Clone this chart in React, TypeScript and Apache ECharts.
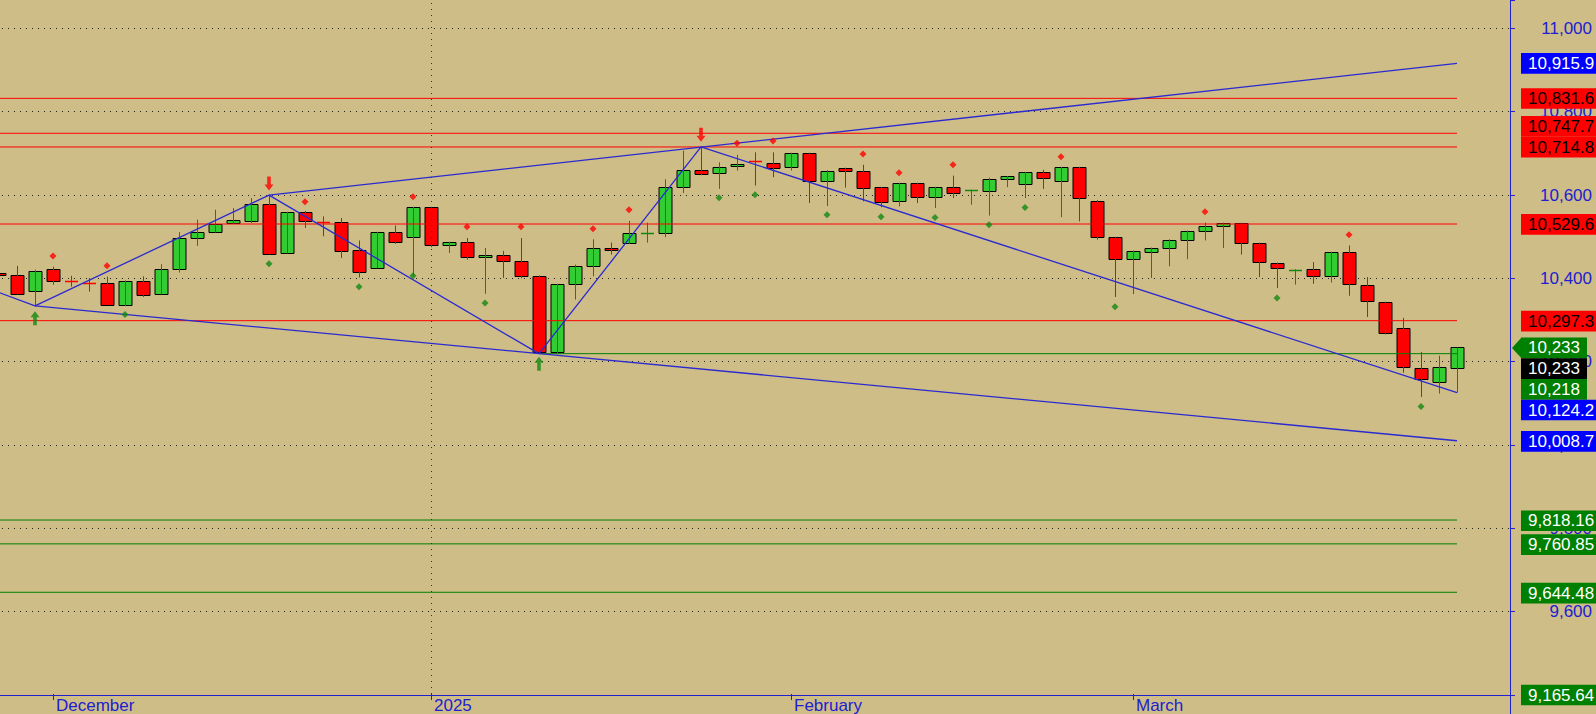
import React, { useEffect, useRef } from 'react';
import * as echarts from 'echarts';

// trading days shown on the chart
const dates = [
  '2024-11-26', '2024-11-27', '2024-11-29',
  '2024-12-02', '2024-12-03', '2024-12-04', '2024-12-05', '2024-12-06',
  '2024-12-09', '2024-12-10', '2024-12-11', '2024-12-12', '2024-12-13',
  '2024-12-16', '2024-12-17', '2024-12-18', '2024-12-19', '2024-12-20',
  '2024-12-23', '2024-12-24', '2024-12-26', '2024-12-27',
  '2024-12-30', '2024-12-31',
  '2025-01-02', '2025-01-03',
  '2025-01-06', '2025-01-07', '2025-01-08', '2025-01-10',
  '2025-01-13', '2025-01-14', '2025-01-15', '2025-01-16', '2025-01-17',
  '2025-01-21', '2025-01-22', '2025-01-23', '2025-01-24',
  '2025-01-27', '2025-01-28', '2025-01-29', '2025-01-30', '2025-01-31',
  '2025-02-03', '2025-02-04', '2025-02-05', '2025-02-06', '2025-02-07',
  '2025-02-10', '2025-02-11', '2025-02-12', '2025-02-13', '2025-02-14',
  '2025-02-18', '2025-02-19', '2025-02-20', '2025-02-21',
  '2025-02-24', '2025-02-25', '2025-02-26', '2025-02-27', '2025-02-28',
  '2025-03-03', '2025-03-04', '2025-03-05', '2025-03-06', '2025-03-07',
  '2025-03-10', '2025-03-11', '2025-03-12', '2025-03-13', '2025-03-14',
  '2025-03-17', '2025-03-18', '2025-03-19', '2025-03-20', '2025-03-21',
  '2025-03-24', '2025-03-25', '2025-03-26', '2025-03-27',
];

// [open, close, low, high]
const ohlc: number[][] = [
  [10413, 10407, 10403, 10417], [10407, 10361, 10360, 10429], [10368, 10417, 10333, 10420],
  [10422, 10392, 10384, 10427], [10393, 10391, 10379, 10405], [10388, 10387, 10367, 10400],
  [10388, 10336, 10335, 10403], [10336, 10393, 10332, 10394], [10393, 10360, 10354, 10404],
  [10361, 10421, 10360, 10433], [10421, 10496, 10413, 10510], [10495, 10510, 10477, 10540],
  [10510, 10530, 10509, 10564], [10532, 10540, 10530, 10568], [10538, 10578, 10532, 10592],
  [10578, 10457, 10456, 10599], [10460, 10558, 10459, 10559], [10558, 10536, 10520, 10561],
  [10535, 10533, 10500, 10548], [10534, 10465, 10448, 10544], [10468, 10414, 10401, 10490],
  [10424, 10510, 10423, 10511], [10510, 10486, 10482, 10526], [10498, 10570, 10405, 10571],
  [10570, 10478, 10474, 10571], [10480, 10486, 10460, 10487], [10486, 10450, 10444, 10496],
  [10450, 10454, 10362, 10472], [10455, 10440, 10400, 10465], [10441, 10404, 10399, 10496],
  [10405, 10221, 10218, 10406], [10222, 10385, 10219, 10386], [10385, 10429, 10348, 10432],
  [10428, 10472, 10404, 10493], [10473, 10467, 10456, 10485], [10484, 10508, 10482, 10537],
  [10507, 10509, 10485, 10533], [10508, 10618, 10498, 10637], [10618, 10660, 10604, 10706],
  [10659, 10649, 10647, 10714.8], [10652, 10666, 10614, 10678], [10669, 10674, 10658, 10696],
  [10681, 10680, 10622, 10702], [10676, 10665, 10642, 10702], [10666, 10700, 10658, 10701],
  [10700, 10632, 10580, 10701], [10632, 10658, 10573, 10659], [10664, 10657, 10617, 10665],
  [10657, 10616, 10584, 10672], [10618, 10582, 10570, 10619], [10585, 10628, 10572, 10629],
  [10628, 10594, 10580, 10629], [10594, 10618, 10568, 10619], [10618, 10604, 10592, 10646],
  [10609, 10611, 10576, 10612], [10608, 10637, 10550, 10641], [10637, 10644, 10618, 10645],
  [10625, 10654, 10592, 10655], [10654, 10639, 10614, 10660], [10634, 10666, 10546, 10667],
  [10666, 10592, 10536, 10667], [10586, 10498, 10492, 10587], [10498, 10445, 10354, 10499],
  [10445, 10465, 10361, 10466], [10463, 10472, 10400, 10473], [10472, 10492, 10428, 10493],
  [10491, 10513, 10445, 10514], [10512, 10525, 10490, 10533], [10525, 10532, 10472, 10533],
  [10532, 10484, 10456, 10533], [10484, 10438, 10402, 10485], [10436, 10423, 10376, 10437],
  [10418, 10420, 10384, 10421], [10421, 10404, 10386, 10438], [10404, 10462, 10389, 10463],
  [10462, 10385, 10357, 10478], [10383, 10344, 10306, 10402], [10342, 10268, 10264, 10343],
  [10280, 10185, 10172, 10304], [10184, 10156, 10114, 10222], [10150, 10186, 10122, 10213],
  [10184, 10233, 10124.2, 10233],
];

// horizontal levels
const resistanceLevels = [10831.6, 10747.7, 10714.8, 10529.6, 10297.3];
const supportLevels = [9818.16, 9760.85, 9644.48];
const swingLowLevel = [30, 10218]; // [start index, value]

// trend lines: [index, value] pairs
const upperTrend = [[15, 10599], [81, 10915.9]];
const lowerTrend = [[2, 10333], [81, 10008.7]];
const zigzag = [[0, 10365], [2, 10333], [15, 10599], [30, 10218], [39, 10714.8], [81, 10124.2]];

// markers: [index, value]
const redDots = [
  [3, 10453], [6, 10429], [17, 10583], [23, 10595], [26, 10523], [29, 10523], [33, 10518],
  [35, 10564], [41, 10724], [43, 10729], [48, 10698], [50, 10653], [53, 10672], [59, 10691],
  [67, 10559], [75, 10504],
];
const greenDots = [
  [7, 10312], [15, 10434], [20, 10379], [23, 10405], [27, 10340], [40, 10593], [42, 10600],
  [46, 10552], [49, 10547], [52, 10545], [55, 10528], [57, 10569], [62, 10331], [71, 10352],
  [79, 10091],
];
const buyArrows = [[2, 10303], [30, 10194]];
const sellArrows = [[15, 10627], [39, 10744]];

// price tags on the right axis, in placement priority order
const priceTags = [
  { value: 10233, text: '10,233', kind: 'last' },
  { value: 10233, text: '10,233', kind: 'black' },
  { value: 10218, text: '10,218', kind: 'green' },
  { value: 10124.2, text: '10,124.2', kind: 'blue' },
  { value: 10008.7, text: '10,008.7', kind: 'blue' },
  { value: 10714.8, text: '10,714.8', kind: 'red' },
  { value: 10747.7, text: '10,747.7', kind: 'red' },
  { value: 10915.9, text: '10,915.9', kind: 'blue' },
  { value: 10831.6, text: '10,831.6', kind: 'red' },
  { value: 10529.6, text: '10,529.6', kind: 'red' },
  { value: 10297.3, text: '10,297.3', kind: 'red' },
  { value: 9818.16, text: '9,818.16', kind: 'green' },
  { value: 9760.85, text: '9,760.85', kind: 'green' },
  { value: 9644.48, text: '9,644.48', kind: 'green' },
  { value: 9165.64, text: '9,165.64', kind: 'green' },
];

const monthNames = ['January', 'February', 'March', 'April', 'May', 'June', 'July',
  'August', 'September', 'October', 'November', 'December'];

const BG = '#CFBD88';
const AXIS_BLUE = '#2020D0';
const GREEN_BODY = '#33CC33';
const GREEN_WICK = '#118811';
const RED_BODY = '#FF0000';
const RED_WICK = '#FF0000';
const LINE_RED = '#FF0000';
const LINE_GREEN = '#008000';
const TREND_BLUE = '#2A2AD0';
const FONT = 'Arial, "Liberation Sans", sans-serif';

const Y_MIN = 9400;
const Y_MAX = 11068;

const isMonthStart = (idx: number) =>
  idx > 0 && dates[idx].slice(0, 7) !== dates[idx - 1].slice(0, 7);

const tagColors: Record<string, [string, string]> = {
  last: ['#008000', '#FFFFFF'],
  black: ['#000000', '#FFFFFF'],
  green: ['#008000', '#FFFFFF'],
  blue: ['#0000FF', '#FFFFFF'],
  red: ['#FF0000', '#000000'],
};

export default function App() {
  const ref = useRef<HTMLDivElement>(null);

  useEffect(() => {
    document.body.style.margin = '0';
    document.body.style.background = BG;
    document.body.style.overflow = 'hidden';
    if (!ref.current) return;
    const chart = echarts.init(ref.current, undefined, { renderer: 'svg' });

    const renderCandle = (params: any, api: any) => {
      const i = api.value(0);
      const o = api.value(1);
      const c = api.value(2);
      const l = api.value(3);
      const h = api.value(4);
      const pO = api.coord([i, o]);
      const pC = api.coord([i, c]);
      const pL = api.coord([i, l]);
      const pH = api.coord([i, h]);
      const x = Math.round(pO[0]) + 0.5;
      const up = c >= o;
      const bw = 13;
      const top = Math.min(pO[1], pC[1]);
      const bot = Math.max(pO[1], pC[1]);
      const children: any[] = [];
      if (bot - top >= 1.2) {
        const ty = Math.round(top) + 0.5;
        children.push({
          type: 'rect',
          shape: { x: x - bw / 2, y: ty, width: bw, height: Math.max(1, Math.round(bot) - Math.round(top)) },
          style: { fill: up ? GREEN_BODY : RED_BODY, stroke: '#000', lineWidth: 1 },
        });
      } else {
        const ty = Math.round(top) + 0.5;
        children.push({
          type: 'line',
          shape: { x1: x - bw / 2, y1: ty, x2: x + bw / 2, y2: ty },
          style: { stroke: up ? GREEN_WICK : RED_WICK, lineWidth: 1.5 },
        });
      }
      children.push({
        type: 'line',
        shape: { x1: x, y1: pH[1], x2: x, y2: pL[1] },
        style: { stroke: up ? GREEN_WICK : RED_WICK, lineWidth: 1 },
      });
      return { type: 'group', children };
    };

    const hLine = (name: string, from: number, v: number, color: string) => ({
      name,
      type: 'line',
      xAxisIndex: 0,
      yAxisIndex: 0,
      data: [[from, v], [dates.length - 1, v]],
      symbol: 'none',
      silent: true,
      z: 3,
      lineStyle: { color, width: 1 },
    });

    const trend = (name: string, pts: number[][]) => ({
      name,
      type: 'line',
      xAxisIndex: 0,
      yAxisIndex: 0,
      data: pts,
      symbol: 'none',
      silent: true,
      z: 3,
      lineStyle: { color: TREND_BLUE, width: 1.3 },
    });

    const series: any[] = [
      {
        type: 'custom',
        name: 'price',
        xAxisIndex: 0,
        yAxisIndex: 0,
        renderItem: renderCandle,
        data: ohlc.map((d, i) => [i, d[0], d[1], d[2], d[3]]),
        encode: { x: 0, y: [1, 2, 3, 4] },
        z: 2,
        silent: true,
        markLine: {
          silent: true,
          symbol: 'none',
          label: { show: false },
          lineStyle: { color: '#333', type: [1, 5], width: 1 },
          data: [{ xAxis: 24 }],
        },
      },
      ...resistanceLevels.map((v, k) => hLine('r' + k, 0, v, LINE_RED)),
      ...supportLevels.map((v, k) => hLine('s' + k, 0, v, LINE_GREEN)),
      hLine('swing', swingLowLevel[0], swingLowLevel[1], LINE_GREEN),
      trend('upper', upperTrend),
      trend('lower', lowerTrend),
      trend('zigzag', zigzag),
      {
        type: 'scatter', xAxisIndex: 0, yAxisIndex: 0, data: redDots, symbol: 'diamond',
        symbolSize: 7, itemStyle: { color: '#FF0000' }, z: 4, silent: true,
      },
      {
        type: 'scatter', xAxisIndex: 0, yAxisIndex: 0, data: greenDots, symbol: 'diamond',
        symbolSize: 7, itemStyle: { color: '#118811' }, z: 4, silent: true,
      },
      {
        type: 'scatter', xAxisIndex: 0, yAxisIndex: 0, data: buyArrows,
        symbol: 'path://M5,0 L10,6 L7,6 L7,14 L3,14 L3,6 L0,6 Z',
        symbolSize: [9, 14], itemStyle: { color: '#118811' }, z: 4, silent: true,
      },
      {
        type: 'scatter', xAxisIndex: 0, yAxisIndex: 0, data: sellArrows,
        symbol: 'path://M3,0 L7,0 L7,8 L10,8 L5,14 L0,8 L3,8 Z',
        symbolSize: [9, 14], itemStyle: { color: '#FF0000' }, z: 4, silent: true,
      },
    ];

    const option: any = {
      animation: false,
      backgroundColor: BG,
      textStyle: { fontFamily: FONT },
      grid: [
        { left: 0, right: 130, top: 0, bottom: 19 },
        { left: 0, right: 86, top: 0, bottom: 19 },
      ],
      xAxis: [
        {
          type: 'category',
          gridIndex: 0,
          data: dates,
          boundaryGap: true,
          axisLine: { show: false },
          axisTick: {
            show: true,
            alignWithLabel: true,
            interval: (idx: number) => isMonthStart(idx),
            length: 6,
            lineStyle: { color: AXIS_BLUE, width: 1 },
          },
          axisLabel: {
            interval: (idx: number) => isMonthStart(idx),
            formatter: (v: string) => {
              const m = parseInt(v.slice(5, 7), 10) - 1;
              return m === 0 ? v.slice(0, 4) : monthNames[m];
            },
            align: 'left',
            padding: [0, 0, 0, 3],
            margin: 3,
            color: AXIS_BLUE,
            fontSize: 17,
            lineHeight: 17,
            fontFamily: FONT,
          },
          splitLine: { show: false },
        },
        {
          type: 'value',
          gridIndex: 1,
          min: 0,
          max: 1,
          axisLine: { show: true, onZero: false, lineStyle: { color: AXIS_BLUE, width: 1 } },
          axisTick: { show: false },
          axisLabel: { show: false },
          splitLine: { show: false },
        },
      ],
      yAxis: [
        {
          type: 'value',
          gridIndex: 0,
          min: Y_MIN,
          max: Y_MAX,
          show: false,
        },
        {
          type: 'value',
          gridIndex: 1,
          position: 'right',
          min: Y_MIN,
          max: Y_MAX,
          interval: 200,
          axisLine: { show: true, onZero: false, lineStyle: { color: AXIS_BLUE, width: 1 } },
          axisTick: { show: true, inside: false, length: 5, lineStyle: { color: AXIS_BLUE } },
          axisLabel: {
            align: 'right',
            margin: 82,
            color: AXIS_BLUE,
            fontSize: 17,
            fontFamily: FONT,
            formatter: (v: number) => {
              const r = Math.round(v / 200) * 200;
              if (Math.abs(v - r) > 1e-6 || v < 9500) return '';
              return r.toLocaleString('en-US');
            },
          },
          splitLine: {
            show: true,
            showMinLine: false,
            showMaxLine: false,
            lineStyle: { color: '#222', type: [1, 5], width: 1 },
          },
        },
      ],
      series,
    };

    chart.setOption(option);

    // place price tags on the right axis, resolving overlaps
    const H = 20.7;
    const gridBottom = 714 - 19;
    const axisX = 1606 - 86;
    const placed: { y: number; value: number }[] = [];
    const graphics: any[] = [
      {
        type: 'line',
        z: 50,
        silent: true,
        shape: { x1: axisX + 0.5, y1: gridBottom, x2: axisX + 0.5, y2: 714 },
        style: { stroke: AXIS_BLUE, lineWidth: 1 },
      },
    ];
    const boxX = 1531;
    priceTags.forEach((t) => {
      let y = chart.convertToPixel({ yAxisIndex: 1 } as any, t.value) as number;
      y = Math.min(Math.max(y, 0), gridBottom);
      for (let iter = 0; iter < 30; iter++) {
        let moved = false;
        for (const p of placed) {
          if (Math.abs(y - p.y) < H - 0.01) {
            y = t.value > p.value ? p.y - H : p.y + H;
            moved = true;
            break;
          }
        }
        if (!moved) break;
      }
      placed.push({ y, value: t.value });
      const [bg, fg] = tagColors[t.kind];
      if (t.kind === 'last') {
        graphics.push({
          type: 'polygon',
          z: 100,
          silent: true,
          shape: { points: [[boxX - 9, y], [boxX + 0.5, y - H / 2], [boxX + 0.5, y + H / 2]] },
          style: { fill: bg },
        });
      }
      graphics.push({
        type: 'text',
        z: 101,
        silent: true,
        style: {
          text: t.text,
          x: boxX,
          y,
          fill: fg,
          font: `17px ${FONT}`,
          backgroundColor: bg,
          padding: [2, 7, 2, 7],
          lineHeight: 16.7,
          align: 'left',
          verticalAlign: 'middle',
        },
      });
    });
    chart.setOption({ graphic: graphics });

    return () => {
      chart.dispose();
    };
  }, []);

  return (
    <div
      ref={ref}
      style={{ position: 'absolute', left: -10, top: 0, width: 1606, height: 714 }}
    />
  );
}
